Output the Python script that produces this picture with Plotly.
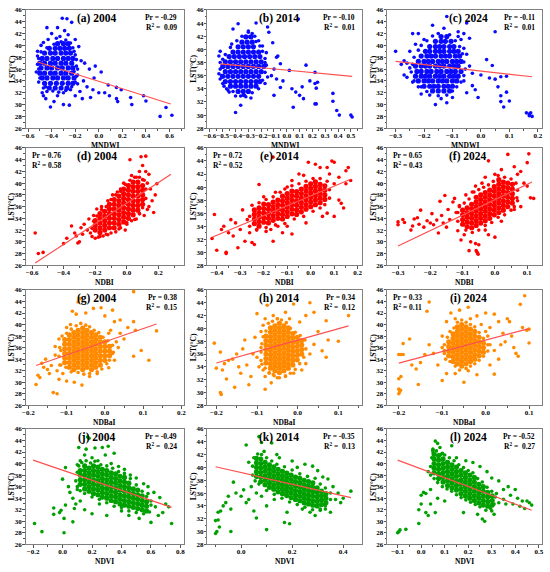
import plotly.graph_objects as go

W, H = 550, 572

# ---------------- data ----------------
panel_labels = ["(a) 2004", "(b) 2014", "(c) 2024",
                "(d) 2004", "(e) 2014", "(f) 2024",
                "(g) 2004", "(h) 2014", "(i) 2024",
                "(j) 2004", "(k) 2014", "(l) 2024"]
x_titles = ["MNDWI", "MNDWI", "MNDWI", "NDBI", "NDBI", "NDBI",
            "NDBaI", "NDBaI", "NDBaI", "NDVI", "NDVI", "NDVI"]
pr_values = [-0.29, -0.10, -0.11, 0.76, 0.72, 0.65, 0.38, 0.34, 0.33, -0.49, -0.35, -0.52]
r2_values = [0.09, 0.01, 0.01, 0.58, 0.52, 0.43, 0.15, 0.12, 0.11, 0.24, 0.13, 0.27]
stat_side = ["r", "r", "r", "l", "l", "l", "r", "r", "l", "r", "r", "r"]

fit_x = [[-0.52, 0.61], [-0.52, 0.51], [-0.30, 0.18],
         [-0.58, 0.28], [-0.42, 0.17], [-0.30, 0.115],
         [-0.18, 0.135], [-0.20, 0.125], [-0.20, 0.10],
         [-0.20, 0.74], [-0.10, 0.43], [-0.10, 0.47]]
fit_y = [[37.2, 30.1], [37.8, 35.9], [37.3, 34.7],
         [26.4, 41.5], [32.3, 41.2], [29.3, 40.2],
         [32.9, 40.1], [34.6, 40.4], [33.3, 39.3],
         [40.6, 32.4], [40.1, 35.3], [40.6, 31.9]]

# dense cores: rows (y, [x...]) for MNDWI, columns (x, [y...]) for the others
mndwi_2004_core = [
    (32.8, [-0.42, -0.37, -0.32, -0.27]),
    (33.6, [-0.46, -0.41, -0.36, -0.31, -0.26, -0.22]),
    (34.5, [-0.48, -0.44, -0.39, -0.35, -0.30, -0.26, -0.21]),
    (35.3, [-0.50, -0.46, -0.41, -0.37, -0.32, -0.28, -0.23]),
    (36.2, [-0.49, -0.44, -0.40, -0.35, -0.31, -0.26, -0.22]),
    (37.0, [-0.50, -0.46, -0.41, -0.37, -0.32, -0.28, -0.23]),
    (37.8, [-0.48, -0.44, -0.39, -0.35, -0.30, -0.26, -0.22]),
    (38.7, [-0.46, -0.41, -0.37, -0.32, -0.28, -0.24]),
    (39.5, [-0.42, -0.37, -0.33, -0.29, -0.25]),
    (40.3, [-0.35, -0.30, -0.26]),
]
mndwi_2004_edge = [(-0.52, 36.8), (-0.53, 35.5), (-0.51, 33.8), (-0.47, 32.8), (-0.45, 33.0), (-0.39, 32.3),
                   (-0.34, 32.1), (-0.28, 32.4), (-0.23, 33.0), (-0.20, 33.8), (-0.19, 34.8), (-0.18, 36.0),
                   (-0.19, 37.6), (-0.20, 38.4), (-0.22, 39.6), (-0.24, 40.4), (-0.28, 40.9), (-0.32, 40.6),
                   (-0.38, 40.2), (-0.44, 39.6), (-0.49, 38.9), (-0.51, 37.8), (-0.36, 41.2), (-0.21, 35.6),
                   (-0.47, 31.5)]
mndwi_2004_out = [(-0.31, 44.6), (-0.27, 44.5), (-0.23, 43.9), (-0.44, 43.0), (-0.35, 43.0), (-0.29, 42.5),
                  (-0.40, 42.0), (-0.20, 41.0), (-0.49, 40.0), (-0.52, 39.0), (-0.17, 39.8), (-0.15, 37.4),
                  (-0.12, 37.0), (-0.08, 36.0), (-0.03, 36.5), (-0.04, 34.5), (0.02, 35.5), (-0.18, 35.0),
                  (-0.13, 34.0), (-0.10, 33.0), (-0.16, 32.2), (-0.05, 32.5), (0.00, 32.0), (-0.20, 31.5),
                  (-0.14, 31.0), (-0.45, 31.0), (-0.38, 30.5), (-0.41, 29.6), (-0.30, 30.0), (-0.25, 29.9),
                  (0.08, 33.3), (0.09, 31.5), (0.15, 32.9), (0.15, 31.0), (0.16, 30.5), (0.19, 32.5),
                  (0.27, 31.2), (0.28, 30.0), (0.38, 31.5), (0.40, 30.6), (0.52, 28.0), (0.57, 29.5),
                  (0.62, 28.2), (0.05, 32.0), (-0.07, 31.2), (-0.48, 32.0), (-0.50, 34.5), (-0.35, 31.5),
                  (-0.52, 38.2), (-0.51, 36.0), (-0.47, 40.5), (-0.43, 41.0), (-0.33, 41.5), (-0.26, 41.8),
                  (-0.21, 39.0), (-0.19, 36.5), (-0.18, 33.5), (-0.44, 32.2), (-0.30, 32.0), (-0.24, 32.5)]

mndwi_2014_core = [
    (33.6, [-0.38, -0.34, -0.30]),
    (34.4, [-0.44, -0.40, -0.36, -0.32, -0.28, -0.24]),
    (35.1, [-0.48, -0.44, -0.40, -0.36, -0.32, -0.28, -0.24, -0.21]),
    (35.9, [-0.50, -0.46, -0.42, -0.38, -0.34, -0.30, -0.26, -0.22]),
    (36.6, [-0.48, -0.44, -0.40, -0.36, -0.32, -0.28, -0.24, -0.20]),
    (37.4, [-0.50, -0.46, -0.42, -0.38, -0.34, -0.30, -0.26, -0.22, -0.18]),
    (38.1, [-0.48, -0.44, -0.40, -0.36, -0.32, -0.28, -0.24, -0.20]),
    (38.9, [-0.45, -0.41, -0.37, -0.33, -0.29, -0.25, -0.21]),
    (39.6, [-0.42, -0.38, -0.34, -0.30, -0.26, -0.22]),
    (40.4, [-0.38, -0.34, -0.30, -0.26]),
    (41.1, [-0.35, -0.31, -0.27]),
    (41.9, [-0.32, -0.28]),
]
mndwi_2014_edge = [(-0.52, 37.0), (-0.51, 36.0), (-0.49, 34.4), (-0.46, 33.8), (-0.42, 33.6), (-0.36, 32.9),
                   (-0.32, 32.8), (-0.27, 33.4), (-0.22, 34.0), (-0.19, 35.3), (-0.17, 36.5), (-0.16, 37.6),
                   (-0.17, 38.6), (-0.19, 39.7), (-0.21, 40.5), (-0.24, 41.2), (-0.25, 42.0), (-0.30, 42.6),
                   (-0.35, 42.0), (-0.39, 41.3), (-0.44, 40.3), (-0.48, 39.2), (-0.50, 38.5), (-0.34, 33.0),
                   (-0.29, 41.9)]
mndwi_2014_out = [(0.09, 44.6), (-0.38, 43.9), (-0.24, 44.0), (-0.42, 43.1), (-0.15, 43.4), (-0.14, 42.6),
                  (-0.30, 42.8), (-0.11, 41.0), (-0.52, 39.7), (-0.53, 39.0), (-0.52, 38.0), (-0.53, 36.3),
                  (-0.52, 35.5), (-0.08, 38.8), (-0.07, 39.0), (-0.05, 37.8), (-0.10, 37.0), (-0.12, 36.0),
                  (-0.15, 35.8), (0.02, 36.8), (0.15, 37.6), (-0.08, 35.5), (-0.03, 35.2), (0.04, 34.0),
                  (-0.05, 34.2), (0.07, 33.5), (0.10, 33.0), (0.12, 34.3), (0.18, 35.2), (0.22, 34.8),
                  (0.24, 35.0), (0.23, 34.1), (0.22, 36.5), (0.05, 31.2), (0.22, 31.7), (0.23, 31.7),
                  (0.36, 33.3), (0.36, 32.1), (0.39, 30.7), (0.41, 30.0), (0.50, 30.0), (0.51, 29.7),
                  (-0.40, 30.4), (-0.36, 31.5), (-0.10, 33.0), (-0.17, 34.8), (-0.45, 33.5), (-0.40, 32.9),
                  (0.13, 32.5), (-0.47, 34.0), (-0.50, 34.8), (-0.16, 39.5), (-0.17, 38.0), (-0.19, 40.5),
                  (-0.43, 40.8), (-0.27, 42.4), (-0.22, 41.3), (-0.33, 33.0), (-0.28, 32.6)]

mndwi_2024_core = [
    (32.3, [-0.17, -0.15, -0.13, -0.11]),
    (33.1, [-0.20, -0.18, -0.165, -0.15, -0.13, -0.115, -0.10]),
    (34.0, [-0.22, -0.20, -0.185, -0.17, -0.15, -0.135, -0.12, -0.10, -0.085]),
    (34.8, [-0.23, -0.21, -0.195, -0.18, -0.16, -0.145, -0.13, -0.11, -0.095, -0.08]),
    (35.6, [-0.225, -0.21, -0.19, -0.175, -0.155, -0.14, -0.12, -0.105, -0.09, -0.07]),
    (36.5, [-0.23, -0.21, -0.195, -0.18, -0.16, -0.145, -0.13, -0.11, -0.095, -0.08]),
    (37.3, [-0.22, -0.20, -0.185, -0.17, -0.15, -0.135, -0.12, -0.10, -0.085, -0.07]),
    (38.2, [-0.21, -0.19, -0.175, -0.16, -0.14, -0.125, -0.11, -0.09, -0.075]),
    (39.0, [-0.195, -0.18, -0.16, -0.145, -0.13, -0.11, -0.095, -0.08]),
    (39.8, [-0.18, -0.16, -0.145, -0.13, -0.11, -0.095]),
    (40.7, [-0.16, -0.14, -0.125, -0.105]),
    (41.5, [-0.14, -0.12]),
]
mndwi_2024_edge = [(-0.245, 35.5), (-0.24, 36.8), (-0.235, 38.0), (-0.22, 39.2), (-0.21, 40.0), (-0.19, 40.8),
                   (-0.17, 41.6), (-0.15, 42.0), (-0.11, 41.8), (-0.09, 40.8), (-0.075, 39.8), (-0.065, 38.6),
                   (-0.06, 37.2), (-0.055, 36.0), (-0.06, 34.9), (-0.07, 33.8), (-0.085, 33.0), (-0.10, 32.3),
                   (-0.12, 31.6), (-0.15, 31.5), (-0.19, 32.2), (-0.21, 33.0), (-0.235, 34.0), (-0.14, 31.0),
                   (-0.08, 41.5)]
mndwi_2024_out = [(-0.12, 44.9), (-0.05, 43.8), (-0.17, 43.4), (-0.13, 42.9), (-0.08, 42.3), (-0.06, 42.0),
                  (0.05, 42.3), (-0.22, 42.0), (-0.24, 42.0), (-0.07, 41.0), (-0.04, 41.2), (-0.20, 41.0),
                  (-0.23, 40.2), (-0.25, 39.0), (-0.30, 39.0), (-0.27, 37.4), (-0.26, 37.0), (-0.25, 36.2),
                  (-0.27, 35.0), (-0.26, 34.6), (-0.24, 33.8), (-0.22, 33.0), (-0.18, 31.6), (-0.16, 30.0),
                  (-0.12, 30.3), (-0.10, 31.2), (-0.05, 32.0), (-0.03, 33.2), (-0.02, 32.5), (-0.01, 31.2),
                  (0.00, 35.0), (0.02, 37.6), (0.04, 36.6), (0.05, 34.3), (0.03, 34.5), (0.06, 33.0),
                  (0.07, 31.5), (0.07, 30.5), (0.08, 29.6), (0.09, 32.1), (0.09, 34.8), (0.07, 34.7),
                  (0.10, 30.6), (-0.04, 36.5), (-0.03, 35.3), (-0.06, 34.0), (0.16, 28.6), (0.17, 28.4),
                  (0.17, 28.1), (0.18, 28.0), (0.175, 28.6), (-0.28, 36.8), (-0.21, 31.8), (-0.06, 39.5),
                  (-0.05, 38.5)]

ndbi_2004_core = [
    (-0.20, [32.0, 32.8, 33.6]),
    (-0.17, [31.6, 32.4, 33.2, 34.0, 34.8]),
    (-0.14, [32.0, 32.8, 33.6, 34.4, 35.2]),
    (-0.11, [32.4, 33.2, 34.0, 34.8, 35.6, 36.4]),
    (-0.08, [32.4, 33.2, 34.0, 34.8, 35.6, 36.4, 37.2]),
    (-0.05, [33.0, 33.8, 34.6, 35.4, 36.2, 37.0, 37.8]),
    (-0.02, [33.4, 34.2, 35.0, 35.8, 36.6, 37.4, 38.2, 39.0]),
    (0.01, [34.0, 34.8, 35.6, 36.4, 37.2, 38.0, 38.8, 39.6]),
    (0.04, [34.6, 35.4, 36.2, 37.0, 37.8, 38.6, 39.4, 40.2]),
    (0.07, [35.4, 36.2, 37.0, 37.8, 38.6, 39.4, 40.2]),
    (0.10, [36.4, 37.2, 38.0, 38.8, 39.6]),
]
ndbi_2004_edge = [(-0.22, 32.3), (-0.21, 33.5), (-0.19, 34.4), (-0.16, 35.5), (-0.13, 36.0), (-0.10, 37.2),
                  (-0.07, 38.0), (-0.04, 38.6), (-0.01, 39.8), (0.02, 40.5), (0.05, 41.0), (0.08, 41.0),
                  (0.11, 40.5), (0.12, 39.0), (0.12, 37.4), (0.10, 35.8), (0.08, 34.8), (0.06, 33.9),
                  (0.03, 33.6), (0.00, 33.3), (-0.04, 32.4), (-0.07, 31.7), (-0.10, 31.5), (-0.13, 31.3),
                  (-0.17, 30.9)]
ndbi_2004_out = [(-0.58, 31.5), (-0.56, 28.0), (-0.53, 28.2), (-0.40, 29.7), (-0.38, 30.6), (-0.35, 32.7),
                 (-0.33, 31.5), (-0.31, 29.8), (-0.30, 30.0), (-0.32, 31.0), (-0.29, 32.4), (-0.28, 31.3),
                 (-0.27, 33.0), (-0.25, 32.0), (-0.24, 33.9), (-0.23, 31.5), (-0.22, 30.9), (-0.20, 30.6),
                 (-0.21, 34.5), (-0.18, 30.8), (-0.15, 31.0), (-0.12, 31.2), (-0.05, 32.2), (-0.19, 35.6),
                 (-0.16, 36.0), (-0.12, 37.0), (-0.09, 38.0), (-0.06, 38.5), (-0.04, 39.0), (-0.02, 40.0),
                 (0.02, 44.0), (0.06, 41.0), (0.08, 42.0), (0.09, 44.5), (0.12, 44.6), (0.10, 43.0),
                 (0.12, 42.0), (0.14, 41.5), (0.13, 40.0), (0.15, 39.0), (0.16, 37.0), (0.14, 36.0),
                 (0.17, 35.0), (0.13, 35.5), (0.19, 39.9), (0.18, 38.0), (0.11, 34.5), (0.08, 34.8),
                 (0.05, 33.8), (0.00, 33.0), (-0.01, 32.0), (0.03, 41.3), (0.10, 40.6)]

ndbi_2014_core = [
    (-0.24, [34.4, 35.1, 35.8, 36.5]),
    (-0.22, [34.0, 34.7, 35.4, 36.1, 36.8]),
    (-0.20, [34.6, 35.3, 36.0, 36.7, 37.4]),
    (-0.18, [34.5, 35.2, 35.9, 36.6, 37.3]),
    (-0.16, [34.9, 35.6, 36.3, 37.0, 37.7]),
    (-0.14, [35.2, 35.9, 36.6, 37.3, 38.0]),
    (-0.12, [35.1, 35.8, 36.5, 37.2, 37.9, 38.6]),
    (-0.10, [35.5, 36.2, 36.9, 37.6, 38.3, 39.0]),
    (-0.08, [35.9, 36.6, 37.3, 38.0, 38.7, 39.4]),
    (-0.06, [35.8, 36.5, 37.2, 37.9, 38.6, 39.3]),
    (-0.04, [36.2, 36.9, 37.6, 38.3, 39.0, 39.7]),
    (-0.02, [36.6, 37.3, 38.0, 38.7, 39.4, 40.1]),
    (0.00, [37.0, 37.7, 38.4, 39.1, 39.8, 40.5]),
    (0.02, [37.3, 38.0, 38.7, 39.4, 40.1, 40.8]),
    (0.04, [37.6, 38.3, 39.0, 39.7, 40.4]),
    (0.06, [38.1, 38.8, 39.5, 40.2]),
]
ndbi_2014_edge = [(-0.26, 34.0), (-0.26, 35.5), (-0.25, 37.2), (-0.22, 37.6), (-0.19, 38.1), (-0.16, 38.5),
                  (-0.13, 39.2), (-0.11, 39.7), (-0.08, 40.2), (-0.05, 40.5), (-0.02, 40.9), (0.01, 41.3),
                  (0.04, 41.3), (0.07, 40.9), (0.08, 39.6), (0.08, 38.3), (0.06, 37.3), (0.04, 36.8),
                  (0.01, 36.3), (-0.03, 35.5), (-0.07, 35.1), (-0.11, 34.4), (-0.15, 34.2), (-0.19, 33.8),
                  (-0.23, 33.4)]
ndbi_2014_out = [(-0.42, 32.1), (-0.40, 30.3), (-0.41, 35.8), (-0.36, 29.8), (-0.36, 30.0), (-0.38, 33.5),
                 (-0.37, 34.0), (-0.35, 33.0), (-0.34, 35.0), (-0.33, 32.5), (-0.32, 34.5), (-0.31, 30.7),
                 (-0.30, 33.5), (-0.29, 36.5), (-0.28, 31.7), (-0.27, 35.0), (-0.26, 33.0), (-0.25, 31.5),
                 (-0.24, 31.2), (-0.23, 33.5), (-0.22, 40.4), (-0.20, 38.5), (-0.19, 33.2), (-0.17, 33.5),
                 (-0.16, 31.7), (-0.14, 34.0), (-0.12, 33.0), (-0.10, 34.0), (-0.08, 32.8), (-0.15, 39.2),
                 (-0.10, 40.0), (-0.08, 41.0), (-0.05, 42.0), (-0.03, 41.8), (-0.01, 43.8), (0.02, 43.5),
                 (0.04, 43.0), (0.07, 43.0), (0.09, 44.0), (0.10, 43.8), (0.08, 42.0), (0.10, 40.5),
                 (0.12, 41.5), (0.15, 42.5), (0.16, 43.0), (0.15, 40.5), (0.17, 41.0), (0.12, 38.0),
                 (0.13, 37.5), (0.14, 36.8), (0.10, 35.5), (0.07, 36.0), (0.05, 35.5), (-0.16, 44.6),
                 (-0.02, 34.5)]

ndbi_2024_core = [
    (-0.100, [33.0, 33.8, 34.6, 35.4]),
    (-0.086, [32.6, 33.4, 34.2, 35.0, 35.8]),
    (-0.072, [32.4, 33.2, 34.0, 34.8, 35.6, 36.4]),
    (-0.058, [32.8, 33.6, 34.4, 35.2, 36.0, 36.8, 37.6]),
    (-0.044, [33.2, 34.0, 34.8, 35.6, 36.4, 37.2, 38.0]),
    (-0.030, [33.6, 34.4, 35.2, 36.0, 36.8, 37.6, 38.4]),
    (-0.016, [34.0, 34.8, 35.6, 36.4, 37.2, 38.0, 38.8]),
    (-0.002, [34.6, 35.4, 36.2, 37.0, 37.8, 38.6, 39.4]),
    (0.012, [35.0, 35.8, 36.6, 37.4, 38.2, 39.0, 39.8, 40.6]),
    (0.026, [35.4, 36.2, 37.0, 37.8, 38.6, 39.4, 40.2]),
    (0.040, [36.0, 36.8, 37.6, 38.4, 39.2, 40.0]),
    (0.054, [36.6, 37.4, 38.2, 39.0, 39.8]),
]
ndbi_2024_edge = [(-0.115, 33.5), (-0.115, 35.0), (-0.11, 36.2), (-0.095, 36.6), (-0.08, 37.3), (-0.065, 38.5),
                  (-0.05, 38.9), (-0.035, 39.3), (-0.02, 39.7), (-0.005, 40.3), (0.01, 41.3), (0.03, 41.0),
                  (0.05, 40.7), (0.065, 40.0), (0.07, 38.8), (0.068, 37.5), (0.06, 36.0), (0.05, 35.4),
                  (0.03, 34.6), (0.01, 34.2), (-0.01, 33.3), (-0.03, 32.8), (-0.05, 32.0), (-0.07, 31.6),
                  (-0.09, 32.0)]
ndbi_2024_out = [(-0.30, 32.9), (-0.30, 33.4), (-0.285, 33.8), (-0.28, 33.3), (-0.26, 32.0), (-0.255, 32.7),
                 (-0.25, 33.9), (-0.24, 34.1), (-0.235, 33.0), (-0.23, 35.4), (-0.22, 32.5), (-0.21, 33.6),
                 (-0.20, 33.2), (-0.195, 34.8), (-0.19, 32.9), (-0.18, 33.7), (-0.175, 31.5), (-0.17, 36.9),
                 (-0.165, 34.5), (-0.16, 33.2), (-0.155, 37.9), (-0.15, 32.5), (-0.145, 35.5), (-0.14, 33.8),
                 (-0.13, 36.8), (-0.125, 37.4), (-0.12, 35.0), (-0.115, 31.9), (-0.11, 36.0), (-0.105, 30.3),
                 (-0.095, 31.2), (-0.08, 28.5), (-0.075, 30.0), (-0.06, 29.7), (-0.055, 28.2), (-0.052, 27.9),
                 (-0.058, 28.5), (-0.05, 29.5), (-0.09, 38.0), (-0.07, 38.5), (-0.06, 39.5), (-0.04, 40.0),
                 (-0.03, 41.0), (-0.02, 43.8), (0.00, 41.5), (0.02, 42.3), (0.04, 44.9), (0.06, 42.8),
                 (0.07, 41.5), (0.08, 42.0), (0.10, 43.5), (0.105, 45.0), (0.09, 40.0), (0.10, 39.5),
                 (0.11, 37.5), (0.12, 37.4), (0.07, 37.0), (0.08, 36.0), (0.06, 35.5), (0.02, 33.5),
                 (-0.02, 31.2), (-0.03, 32.0), (0.00, 30.8)]

ndbai_2004_core = [
    (-0.105, [33.4, 34.2, 35.0, 35.8, 36.6, 37.4]),
    (-0.093, [32.6, 33.4, 34.2, 35.0, 35.8, 36.6, 37.4, 38.2]),
    (-0.081, [32.2, 33.0, 33.8, 34.6, 35.4, 36.2, 37.0, 37.8, 38.6]),
    (-0.070, [32.6, 33.4, 34.2, 35.0, 35.8, 36.6, 37.4, 38.2, 39.0]),
    (-0.058, [32.2, 33.0, 33.8, 34.6, 35.4, 36.2, 37.0, 37.8, 38.6, 39.4]),
    (-0.047, [32.6, 33.4, 34.2, 35.0, 35.8, 36.6, 37.4, 38.2, 39.0]),
    (-0.035, [32.2, 33.0, 33.8, 34.6, 35.4, 36.2, 37.0, 37.8, 38.6]),
    (-0.024, [32.6, 33.4, 34.2, 35.0, 35.8, 36.6, 37.4, 38.2]),
    (-0.012, [33.0, 33.8, 34.6, 35.4, 36.2, 37.0, 37.8]),
    (0.000, [33.8, 34.6, 35.4, 36.2, 37.0]),
    (0.012, [34.6, 35.4, 36.2]),
]
ndbai_2004_edge = [(-0.118, 33.0), (-0.12, 34.5), (-0.118, 36.0), (-0.112, 38.0), (-0.10, 38.5), (-0.088, 39.2),
                   (-0.075, 39.8), (-0.063, 40.2), (-0.05, 39.9), (-0.04, 39.6), (-0.028, 39.0), (-0.016, 38.6),
                   (-0.005, 37.8), (0.008, 37.2), (0.02, 36.4), (0.022, 35.2), (0.012, 33.8), (0.005, 33.2),
                   (-0.008, 32.3), (-0.02, 31.8), (-0.04, 31.5), (-0.055, 31.4), (-0.07, 31.7), (-0.088, 31.8),
                   (-0.102, 32.6)]
ndbai_2004_out = [(-0.18, 29.6), (-0.175, 31.2), (-0.17, 30.8), (-0.165, 33.3), (-0.16, 32.6), (-0.155, 34.0),
                  (-0.15, 32.2), (-0.145, 31.5), (-0.14, 32.9), (-0.135, 28.2), (-0.13, 34.7), (-0.125, 28.0),
                  (-0.125, 32.0), (-0.12, 30.5), (-0.115, 35.5), (-0.11, 31.5), (-0.115, 33.0), (-0.13, 36.2),
                  (-0.12, 37.5), (-0.10, 39.5), (-0.09, 40.0), (-0.085, 42.3), (-0.075, 41.8), (-0.07, 43.9),
                  (-0.065, 44.5), (-0.05, 42.0), (-0.03, 42.8), (-0.01, 42.9), (0.00, 41.5), (0.02, 42.5),
                  (0.025, 40.5), (0.04, 40.8), (0.075, 45.7), (0.075, 40.5), (0.08, 39.0), (0.06, 39.5),
                  (0.04, 38.5), (0.05, 37.5), (0.03, 37.0), (0.035, 36.0), (0.02, 35.0), (0.025, 33.8),
                  (0.01, 32.5), (0.075, 34.5), (0.095, 35.5), (0.115, 33.8), (0.135, 38.9), (-0.06, 29.5),
                  (-0.08, 30.0), (-0.10, 30.2), (-0.04, 31.0), (-0.02, 31.5), (0.01, 38.5), (0.015, 39.0)]

ndbai_2014_core = [
    (-0.078, [34.6, 35.3, 36.0, 36.7, 37.4, 38.1, 38.8]),
    (-0.067, [33.8, 34.5, 35.2, 35.9, 36.6, 37.3, 38.0, 38.7, 39.4, 40.1]),
    (-0.056, [33.4, 34.1, 34.8, 35.5, 36.2, 36.9, 37.6, 38.3, 39.0, 39.7, 40.4]),
    (-0.045, [33.1, 33.8, 34.5, 35.2, 35.9, 36.6, 37.3, 38.0, 38.7, 39.4, 40.1, 40.8]),
    (-0.034, [33.4, 34.1, 34.8, 35.5, 36.2, 36.9, 37.6, 38.3, 39.0, 39.7, 40.4]),
    (-0.023, [33.8, 34.5, 35.2, 35.9, 36.6, 37.3, 38.0, 38.7, 39.4, 40.1]),
    (-0.012, [34.3, 35.0, 35.7, 36.4, 37.1, 37.8, 38.5, 39.2]),
    (-0.001, [35.1, 35.8, 36.5, 37.2, 37.9, 38.6]),
    (0.010, [36.0, 36.7, 37.4, 38.1]),
]
ndbai_2014_edge = [(-0.09, 35.0), (-0.09, 36.3), (-0.088, 37.6), (-0.085, 38.7), (-0.078, 39.6), (-0.072, 40.8),
                   (-0.062, 41.1), (-0.05, 41.5), (-0.04, 41.3), (-0.028, 40.9), (-0.018, 40.0), (-0.006, 39.4),
                   (0.006, 38.9), (0.018, 38.2), (0.02, 36.8), (0.015, 35.5), (0.005, 34.5), (-0.006, 33.6),
                   (-0.018, 33.0), (-0.03, 32.6), (-0.045, 32.3), (-0.058, 32.6), (-0.07, 33.1), (-0.08, 33.8),
                   (-0.088, 34.4)]
ndbai_2014_out = [(-0.205, 37.7), (-0.20, 33.8), (-0.19, 36.3), (-0.19, 30.0), (-0.188, 29.7), (-0.185, 33.5),
                  (-0.18, 34.5), (-0.175, 32.1), (-0.17, 35.0), (-0.16, 35.2), (-0.155, 30.8), (-0.15, 36.0),
                  (-0.145, 34.0), (-0.14, 33.0), (-0.135, 36.8), (-0.13, 38.2), (-0.125, 34.3), (-0.12, 31.2),
                  (-0.115, 32.5), (-0.11, 36.0), (-0.105, 38.6), (-0.10, 35.5), (-0.10, 42.3), (-0.095, 34.0),
                  (-0.09, 37.0), (-0.09, 39.5), (-0.085, 33.5), (-0.08, 30.5), (-0.08, 32.5), (-0.07, 33.0),
                  (-0.065, 31.5), (-0.085, 40.5), (-0.08, 41.5), (-0.075, 43.6), (-0.06, 42.0), (-0.05, 41.5),
                  (-0.03, 42.5), (-0.02, 41.5), (-0.01, 43.8), (0.005, 41.0), (0.02, 42.0), (0.03, 44.0),
                  (0.04, 42.5), (0.05, 39.5), (0.07, 41.2), (0.075, 38.2), (0.06, 36.5), (0.07, 35.5),
                  (0.10, 38.0), (0.125, 42.0), (0.04, 37.5), (0.03, 36.0), (0.02, 34.5), (0.01, 33.5),
                  (-0.01, 33.0), (-0.03, 32.5), (-0.05, 32.3), (-0.06, 32.8)]

ndbai_2024_core = [
    (-0.085, [34.6, 35.4, 36.2, 37.0]),
    (-0.075, [33.6, 34.4, 35.2, 36.0, 36.8, 37.6, 38.4]),
    (-0.065, [33.2, 34.0, 34.8, 35.6, 36.4, 37.2, 38.0, 38.8, 39.6]),
    (-0.055, [32.8, 33.6, 34.4, 35.2, 36.0, 36.8, 37.6, 38.4, 39.2, 40.0]),
    (-0.045, [33.2, 34.0, 34.8, 35.6, 36.4, 37.2, 38.0, 38.8, 39.6]),
    (-0.035, [33.6, 34.4, 35.2, 36.0, 36.8, 37.6, 38.4, 39.2]),
    (-0.025, [34.0, 34.8, 35.6, 36.4, 37.2, 38.0, 38.8]),
    (-0.015, [34.6, 35.4, 36.2, 37.0, 37.8]),
    (-0.005, [35.2, 36.0, 36.8]),
]
ndbai_2024_edge = [(-0.095, 35.0), (-0.095, 36.5), (-0.088, 37.8), (-0.082, 38.8), (-0.073, 39.4), (-0.065, 40.4),
                   (-0.055, 40.8), (-0.045, 40.4), (-0.035, 40.0), (-0.025, 39.6), (-0.015, 38.6), (-0.005, 37.6),
                   (0.005, 36.5), (0.005, 35.4), (-0.005, 34.5), (-0.015, 33.8), (-0.025, 33.2), (-0.035, 32.8),
                   (-0.045, 32.4), (-0.06, 32.1), (-0.07, 32.8), (-0.082, 33.6), (-0.092, 34.0), (0.0, 38.8),
                   (-0.10, 36.0)]
ndbai_2024_out = [(-0.20, 34.8), (-0.195, 34.8), (-0.19, 34.8), (-0.20, 30.6), (-0.195, 31.0), (-0.20, 28.0),
                  (-0.198, 28.3), (-0.196, 28.6), (-0.20, 28.8), (-0.19, 36.7), (-0.175, 37.5), (-0.17, 33.0),
                  (-0.16, 32.3), (-0.155, 29.6), (-0.15, 33.4), (-0.14, 34.8), (-0.135, 42.3), (-0.13, 43.9),
                  (-0.13, 36.5), (-0.12, 35.0), (-0.11, 33.0), (-0.10, 30.3), (-0.10, 38.0), (-0.095, 35.5),
                  (-0.09, 31.5), (-0.09, 40.5), (-0.08, 42.0), (-0.07, 41.0), (-0.06, 42.5), (-0.05, 30.0),
                  (-0.04, 43.0), (-0.035, 41.0), (-0.02, 41.5), (-0.01, 40.0), (0.00, 42.0), (0.01, 39.5),
                  (0.02, 41.8), (0.03, 40.5), (0.04, 38.5), (0.05, 41.0), (0.055, 40.5), (0.06, 38.0),
                  (0.065, 36.0), (0.07, 35.0), (0.075, 34.5), (0.08, 43.5), (0.085, 39.5), (0.09, 45.0),
                  (0.095, 39.0), (0.10, 39.2), (0.10, 36.8), (0.02, 35.5), (0.03, 34.0), (0.01, 33.0),
                  (-0.02, 31.3), (0.02, 31.4), (-0.07, 31.5), (-0.04, 32.0), (0.045, 37.0), (0.035, 36.5),
                  (0.005, 38.0), (0.01, 36.5)]

ndvi_2004_core = [
    (0.12, [36.4, 37.2, 38.0, 38.8]),
    (0.15, [35.6, 36.4, 37.2, 38.0, 38.8, 39.6]),
    (0.18, [35.2, 36.0, 36.8, 37.6, 38.4, 39.2]),
    (0.21, [34.8, 35.6, 36.4, 37.2, 38.0, 38.8, 39.6]),
    (0.24, [34.6, 35.4, 36.2, 37.0, 37.8, 38.6, 39.4]),
    (0.27, [34.2, 35.0, 35.8, 36.6, 37.4, 38.2, 39.0]),
    (0.30, [34.0, 34.8, 35.6, 36.4, 37.2, 38.0, 38.8]),
    (0.33, [33.6, 34.4, 35.2, 36.0, 36.8, 37.6, 38.4]),
    (0.36, [33.4, 34.2, 35.0, 35.8, 36.6, 37.4, 38.2]),
    (0.39, [33.0, 33.8, 34.6, 35.4, 36.2, 37.0, 37.8]),
    (0.42, [32.8, 33.6, 34.4, 35.2, 36.0, 36.8, 37.6]),
    (0.45, [32.6, 33.4, 34.2, 35.0, 35.8, 36.6]),
    (0.48, [32.4, 33.2, 34.0, 34.8, 35.6]),
    (0.51, [32.2, 33.0, 33.8, 34.6, 35.4]),
    (0.54, [32.0, 32.8, 33.6, 34.4]),
    (0.57, [31.8, 32.6, 33.4]),
]
ndvi_2004_edge = [(0.10, 35.5), (0.09, 37.0), (0.10, 38.5), (0.11, 39.6), (0.13, 40.2), (0.16, 40.5),
                  (0.19, 40.1), (0.22, 40.4), (0.26, 39.8), (0.30, 39.6), (0.34, 39.2), (0.38, 38.6),
                  (0.42, 38.3), (0.46, 37.4), (0.50, 36.3), (0.54, 35.2), (0.57, 34.3), (0.60, 32.8),
                  (0.59, 31.6), (0.55, 31.3), (0.50, 31.5), (0.45, 31.8), (0.40, 32.4), (0.35, 32.6),
                  (0.30, 33.2), (0.25, 33.8), (0.20, 34.2), (0.15, 34.8), (0.12, 35.3)]
ndvi_2004_out = [(-0.19, 29.6), (-0.14, 28.2), (-0.06, 31.2), (-0.06, 32.3), (-0.02, 31.5), (-0.01, 31.9),
                 (0.01, 30.5), (0.01, 28.0), (0.02, 32.8), (0.00, 37.3), (0.02, 39.3), (0.04, 36.0),
                 (0.05, 35.0), (0.07, 34.0), (0.07, 29.9), (0.08, 32.2), (0.09, 33.0), (0.10, 36.0),
                 (0.10, 39.8), (0.11, 42.8), (0.12, 40.5), (0.15, 41.5), (0.17, 44.6), (0.18, 44.4),
                 (0.16, 42.5), (0.20, 41.0), (0.22, 42.7), (0.24, 40.5), (0.27, 42.8), (0.29, 41.5),
                 (0.31, 43.0), (0.33, 40.0), (0.35, 41.8), (0.38, 39.5), (0.42, 39.0), (0.46, 38.0),
                 (0.50, 37.5), (0.55, 36.5), (0.58, 36.0), (0.62, 35.0), (0.66, 34.1), (0.70, 33.0),
                 (0.72, 32.5), (0.74, 29.6), (0.68, 31.5), (0.65, 31.0), (0.60, 29.8), (0.63, 32.5),
                 (0.52, 30.5), (0.45, 31.0), (0.40, 31.8), (0.30, 31.0), (0.20, 31.3), (0.15, 32.0),
                 (0.12, 33.5), (0.25, 33.0), (0.60, 33.5), (0.58, 34.8)]

ndvi_2014_core = [
    (0.060, [38.6, 39.3, 40.0, 40.7, 41.4]),
    (0.077, [37.8, 38.5, 39.2, 39.9, 40.6, 41.3]),
    (0.094, [37.3, 38.0, 38.7, 39.4, 40.1, 40.8]),
    (0.111, [36.9, 37.6, 38.3, 39.0, 39.7, 40.4]),
    (0.128, [36.6, 37.3, 38.0, 38.7, 39.4, 40.1]),
    (0.145, [36.2, 36.9, 37.6, 38.3, 39.0, 39.7]),
    (0.162, [35.9, 36.6, 37.3, 38.0, 38.7, 39.4]),
    (0.179, [35.6, 36.3, 37.0, 37.7, 38.4, 39.1]),
    (0.196, [35.3, 36.0, 36.7, 37.4, 38.1, 38.8]),
    (0.213, [35.0, 35.7, 36.4, 37.1, 37.8, 38.5]),
    (0.230, [34.8, 35.5, 36.2, 36.9, 37.6, 38.3]),
    (0.247, [34.5, 35.2, 35.9, 36.6, 37.3, 38.0]),
    (0.264, [34.3, 35.0, 35.7, 36.4, 37.1, 37.8]),
    (0.281, [34.1, 34.8, 35.5, 36.2, 36.9, 37.6]),
    (0.298, [34.0, 34.7, 35.4, 36.1, 36.8]),
    (0.315, [34.2, 34.9, 35.6, 36.3]),
    (0.332, [34.5, 35.2, 35.9]),
]
ndvi_2014_edge = [(0.045, 38.8), (0.045, 40.2), (0.05, 41.5), (0.065, 42.1), (0.08, 42.0), (0.10, 41.5),
                  (0.12, 41.0), (0.14, 40.5), (0.17, 40.1), (0.20, 39.6), (0.23, 39.0), (0.26, 38.6),
                  (0.29, 38.3), (0.31, 37.4), (0.33, 36.8), (0.35, 36.0), (0.35, 35.0), (0.33, 34.0),
                  (0.31, 33.5), (0.28, 33.4), (0.25, 33.8), (0.22, 34.2), (0.19, 34.6), (0.16, 35.2),
                  (0.13, 35.8), (0.10, 36.4), (0.07, 37.4), (0.055, 37.9)]
ndvi_2014_out = [(-0.10, 29.7), (-0.095, 30.0), (-0.10, 31.7), (-0.09, 31.8), (-0.09, 33.0), (-0.085, 30.7),
                 (-0.08, 33.2), (-0.07, 34.0), (-0.06, 34.5), (-0.05, 35.5), (-0.04, 30.0), (-0.04, 33.5),
                 (-0.03, 37.7), (-0.02, 36.0), (0.00, 35.5), (0.01, 36.5), (0.02, 34.5), (0.02, 43.5),
                 (0.03, 40.8), (0.03, 35.0), (0.04, 37.0), (0.05, 33.2), (0.06, 32.1), (0.07, 44.8),
                 (0.08, 43.9), (0.09, 42.5), (0.10, 34.0), (0.10, 30.3), (0.12, 43.8), (0.14, 42.0),
                 (0.15, 41.5), (0.17, 31.4), (0.18, 33.0), (0.19, 31.2), (0.20, 41.0), (0.22, 40.0),
                 (0.25, 40.5), (0.28, 40.2), (0.30, 39.5), (0.32, 38.5), (0.34, 38.2), (0.36, 37.0),
                 (0.38, 36.0), (0.40, 35.2), (0.43, 36.3), (0.35, 33.0), (0.33, 33.5), (0.29, 32.5),
                 (0.27, 33.0), (0.24, 33.5), (0.06, 36.0), (0.08, 35.5), (0.13, 35.0), (0.31, 33.3),
                 (0.37, 35.0), (0.39, 34.5)]

ndvi_2024_core = [
    (0.055, [38.4, 39.2, 40.0, 40.8, 41.6]),
    (0.074, [37.4, 38.2, 39.0, 39.8, 40.6, 41.4]),
    (0.093, [36.8, 37.6, 38.4, 39.2, 40.0, 40.8]),
    (0.112, [36.2, 37.0, 37.8, 38.6, 39.4, 40.2]),
    (0.131, [35.8, 36.6, 37.4, 38.2, 39.0, 39.8]),
    (0.150, [35.4, 36.2, 37.0, 37.8, 38.6, 39.4]),
    (0.169, [34.8, 35.6, 36.4, 37.2, 38.0, 38.8]),
    (0.188, [34.4, 35.2, 36.0, 36.8, 37.6, 38.4]),
    (0.207, [34.0, 34.8, 35.6, 36.4, 37.2, 38.0]),
    (0.226, [33.6, 34.4, 35.2, 36.0, 36.8, 37.6]),
    (0.245, [33.2, 34.0, 34.8, 35.6, 36.4]),
    (0.264, [32.8, 33.6, 34.4, 35.2, 36.0]),
    (0.283, [32.6, 33.4, 34.2, 35.0]),
    (0.302, [32.8, 33.6, 34.4]),
]
ndvi_2024_edge = [(0.04, 38.0), (0.04, 39.5), (0.045, 41.0), (0.05, 42.3), (0.065, 42.2), (0.085, 41.6),
                  (0.10, 41.5), (0.12, 41.0), (0.14, 40.5), (0.16, 39.8), (0.18, 39.3), (0.20, 38.8),
                  (0.22, 38.4), (0.24, 37.4), (0.26, 36.8), (0.28, 35.9), (0.30, 35.2), (0.315, 34.2),
                  (0.31, 33.0), (0.295, 32.2), (0.275, 31.9), (0.25, 32.5), (0.23, 32.9), (0.21, 33.3),
                  (0.19, 33.7), (0.17, 34.1), (0.15, 34.6), (0.13, 35.2), (0.11, 35.6), (0.09, 36.0),
                  (0.07, 36.7), (0.055, 37.4)]
ndvi_2024_out = [(-0.10, 28.0), (-0.095, 28.2), (-0.09, 28.5), (-0.065, 28.6), (-0.01, 29.6), (-0.01, 32.0),
                 (0.00, 33.0), (0.00, 34.5), (0.01, 35.0), (0.02, 31.5), (0.03, 31.0), (0.02, 34.8),
                 (0.04, 33.0), (0.04, 35.5), (0.03, 38.6), (0.05, 42.5), (0.05, 42.0), (0.06, 43.9),
                 (0.07, 43.5), (0.08, 42.8), (0.09, 41.8), (0.13, 43.1), (0.15, 41.0), (0.19, 40.5),
                 (0.22, 40.2), (0.25, 39.5), (0.28, 38.6), (0.30, 37.5), (0.33, 37.0), (0.35, 35.5),
                 (0.38, 34.5), (0.40, 35.5), (0.41, 34.0), (0.43, 33.5), (0.45, 33.5), (0.46, 33.2),
                 (0.47, 32.8), (0.44, 32.2), (0.36, 33.0), (0.33, 33.2), (0.31, 31.2), (0.30, 31.8),
                 (0.27, 30.0), (0.26, 30.4), (0.24, 31.2), (0.18, 31.5), (0.10, 33.5), (0.07, 34.0),
                 (0.06, 31.5), (0.32, 34.8), (0.35, 33.8), (0.39, 33.0), (0.42, 32.6), (0.37, 36.0)]

# axis settings
x_ranges = [[-0.62, 0.72], [-0.62, 0.59], [-0.33, 0.215],
            [-0.64, 0.36], [-0.44, 0.22], [-0.334, 0.146],
            [-0.207, 0.206], [-0.222, 0.159], [-0.227, 0.13],
            [-0.25, 0.822], [-0.132, 0.475], [-0.145, 0.514]]
x_dticks = [0.2, 0.1, 0.1, 0.2, 0.1, 0.1, 0.1, 0.1, 0.1, 0.2, 0.2, 0.1]
y_ranges = [[26, 46], [28, 46], [26, 46]] * 4

# ---------------- helpers ----------------
def from_rows(rows):
    xs, ys = [], []
    for y, xl in rows:
        for x in xl:
            xs.append(x); ys.append(y)
    return xs, ys

def from_cols(cols):
    xs, ys = [], []
    for x, yl in cols:
        for y in yl:
            xs.append(x); ys.append(y)
    return xs, ys

cores = [from_rows(mndwi_2004_core), from_rows(mndwi_2014_core), from_rows(mndwi_2024_core),
         from_cols(ndbi_2004_core), from_cols(ndbi_2014_core), from_cols(ndbi_2024_core),
         from_cols(ndbai_2004_core), from_cols(ndbai_2014_core), from_cols(ndbai_2024_core),
         from_cols(ndvi_2004_core), from_cols(ndvi_2014_core), from_cols(ndvi_2024_core)]
sparse = [mndwi_2004_edge + mndwi_2004_out, mndwi_2014_edge + mndwi_2014_out, mndwi_2024_edge + mndwi_2024_out,
          ndbi_2004_edge + ndbi_2004_out, ndbi_2014_edge + ndbi_2014_out, ndbi_2024_edge + ndbi_2024_out,
          ndbai_2004_edge + ndbai_2004_out, ndbai_2014_edge + ndbai_2014_out, ndbai_2024_edge + ndbai_2024_out,
          ndvi_2004_edge + ndvi_2004_out, ndvi_2014_edge + ndvi_2014_out, ndvi_2024_edge + ndvi_2024_out]

row_colors = ["#0A0AFF", "#FF0000", "#FF8A00", "#00A000"]
line_color = "#FF5050"

# pixel layout of the plot areas
col_px = [(22, 182), (206, 363), (388, 545)]
row_px = [(6, 126), (146, 265), (290, 407), (431, 548)]

def px(x):
    return x / W

def py(y):
    return 1 - y / H

FONT = "Liberation Serif"
fig = go.Figure()
annotations = []
layout_axes = {}

for i in range(12):
    r, c = divmod(i, 3)
    n = i + 1
    xref = "x" if n == 1 else f"x{n}"
    yref = "y" if n == 1 else f"y{n}"
    cx, cy = cores[i]
    fig.add_trace(go.Scatter(x=cx, y=cy, mode="markers", xaxis=xref, yaxis=yref,
                             marker=dict(size=5.2, color=row_colors[r], line=dict(width=0)),
                             showlegend=False, hoverinfo="skip"))
    fig.add_trace(go.Scatter(x=[p[0] for p in sparse[i]], y=[p[1] for p in sparse[i]], mode="markers",
                             xaxis=xref, yaxis=yref,
                             marker=dict(size=3.6, color=row_colors[r], line=dict(width=0)),
                             showlegend=False, hoverinfo="skip"))
    fig.add_trace(go.Scatter(x=fit_x[i], y=fit_y[i], mode="lines", xaxis=xref, yaxis=yref,
                             line=dict(color=line_color, width=1.2),
                             showlegend=False, hoverinfo="skip"))
    l, rr = col_px[c]
    t, b = row_px[r]
    axis_common = dict(showline=True, linecolor="#808080", linewidth=1, mirror=True,
                       ticks="outside", ticklen=2.5, tickwidth=1, tickcolor="#555555",
                       showgrid=False, zeroline=False, tickangle=0,
                       tickfont=dict(family=FONT, size=7, color="black", weight="bold"))
    xa = dict(axis_common, domain=[px(l), px(rr)], range=x_ranges[i], dtick=x_dticks[i], tick0=0,
              tickformat=".1f", anchor=yref, ticklabelstandoff=-2,
              minor=dict(ticks="outside", ticklen=1.5, dtick=x_dticks[i] / 2, tickcolor="#555555"))
    ya = dict(axis_common, domain=[py(b), py(t)], range=y_ranges[i], dtick=2, tick0=0,
              anchor=xref, ticklabelstandoff=-1,
              minor=dict(ticks="outside", ticklen=1.5, dtick=1, tickcolor="#555555"))
    layout_axes["xaxis" if n == 1 else f"xaxis{n}"] = xa
    layout_axes["yaxis" if n == 1 else f"yaxis{n}"] = ya

    # panel title
    title_cx = [94, 279, 470][c]
    annotations.append(dict(text=panel_labels[i], x=px(title_cx), y=py(t + 9), xref="paper", yref="paper",
                            showarrow=False, xanchor="center", yanchor="middle",
                            font=dict(family=FONT, size=11.5, color="black", weight="bold")))
    # statistics
    pr_txt = f"Pr = {pr_values[i]:.2f}"
    r2_txt = f"R<sup>2</sup> =  {r2_values[i]:.2f}" if stat_side[i] == "r" else f"R<sup>2</sup> = {r2_values[i]:.2f}"
    if stat_side[i] == "r":
        sx, anc = rr - 5, "right"
    else:
        sx, anc = l + 4, "left"
    annotations.append(dict(text=pr_txt, x=px(sx), y=py(t + 8), xref="paper", yref="paper",
                            showarrow=False, xanchor=anc, yanchor="middle",
                            font=dict(family=FONT, size=7.5, color="black", weight="bold")))
    annotations.append(dict(text=r2_txt, x=px(sx), y=py(t + 17), xref="paper", yref="paper",
                            showarrow=False, xanchor=anc, yanchor="middle",
                            font=dict(family=FONT, size=7.5, color="black", weight="bold")))
    # x title
    annotations.append(dict(text=x_titles[i], x=px((l + rr) / 2), y=py(b + 17), xref="paper", yref="paper",
                            showarrow=False, xanchor="center", yanchor="middle",
                            font=dict(family=FONT, size=7.5, color="black", weight="bold")))
    # y title
    annotations.append(dict(text="LST(°C)", x=px(l - 14), y=py((t + b) / 2), xref="paper", yref="paper",
                            showarrow=False, xanchor="center", yanchor="middle", textangle=-90,
                            font=dict(family=FONT, size=7.5, color="black", weight="bold")))

fig.update_layout(width=W, height=H, margin=dict(l=0, r=0, t=0, b=0),
                  paper_bgcolor="white", plot_bgcolor="white",
                  annotations=annotations, **layout_axes)

fig.write_html("out.html", config={"displayModeBar": False},
               post_script="document.body.style.margin='0';document.body.style.overflow='hidden';")
